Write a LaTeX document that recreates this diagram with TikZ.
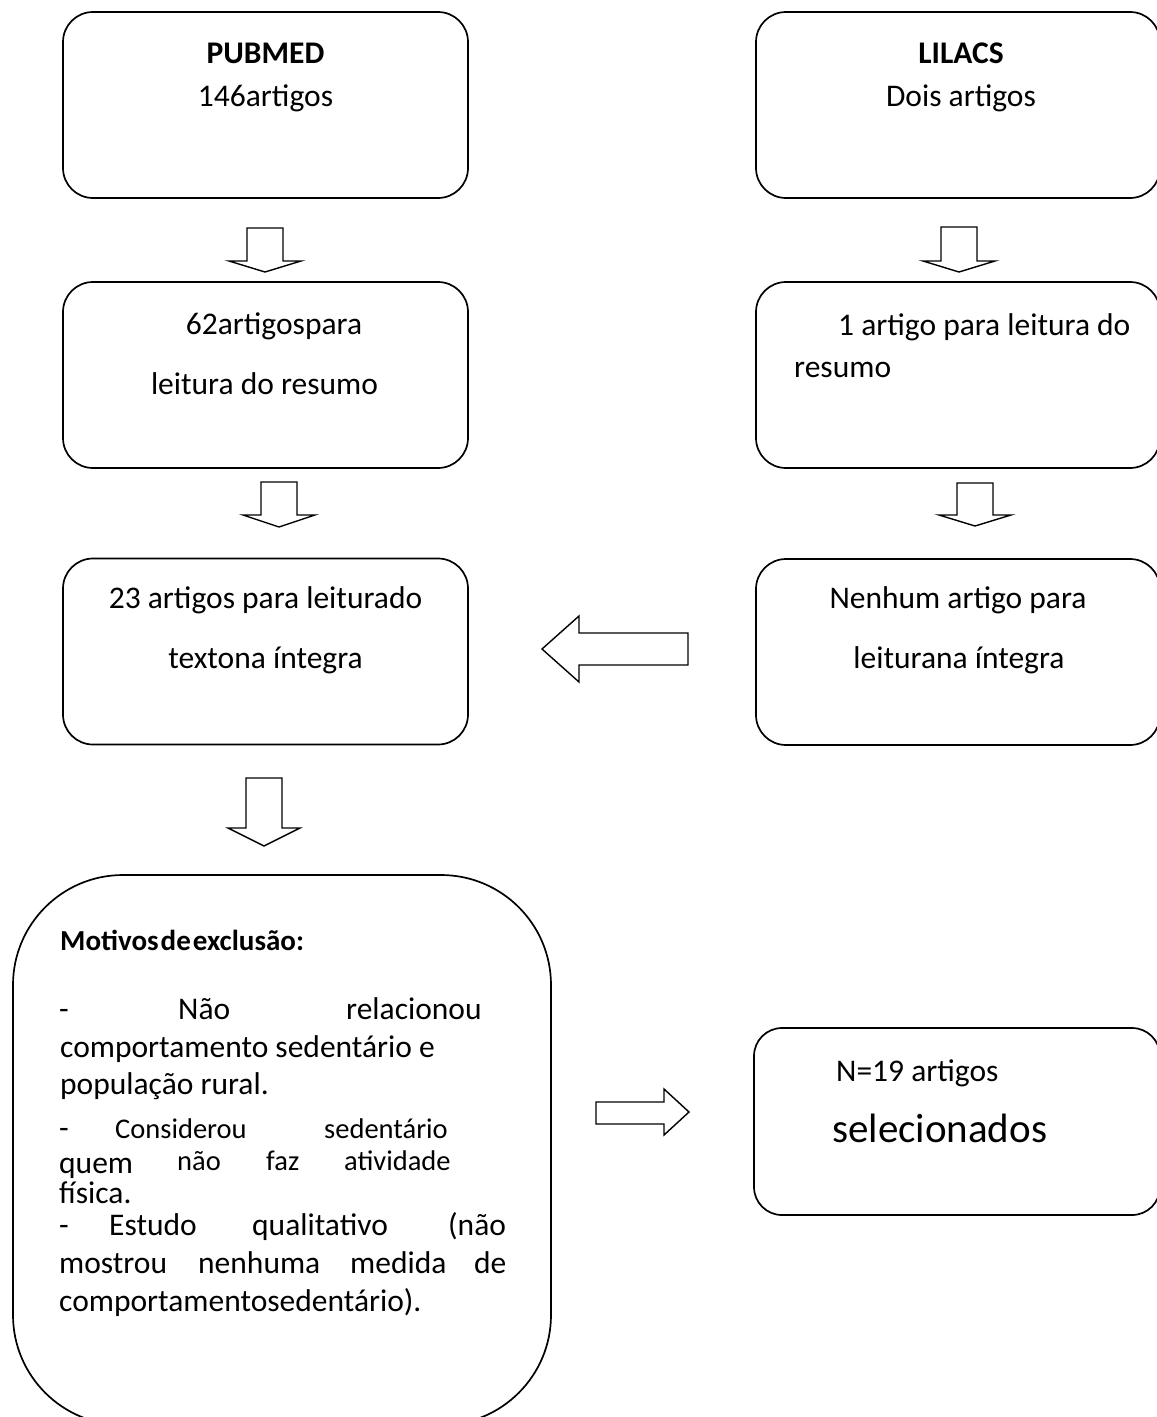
\documentclass[tikz,border=0pt]{standalone}
\usepackage{fontspec}
\setmainfont{Carlito}
\begin{document}
\tikzset{
  box/.style={draw, line width=1.7pt, rounded corners=30pt, inner sep=0pt},
  barrow/.style={draw, line width=1.4pt, line join=miter},
  txt/.style={anchor=base, inner sep=0pt, font=\fontsize{31.5}{37}\selectfont},
  txtl/.style={anchor=base west, inner sep=0pt, font=\fontsize{31.5}{37}\selectfont},
  txts/.style={anchor=base west, inner sep=0pt, font=\fontsize{28.5}{34}\selectfont},
}
\begin{tikzpicture}[x=1pt,y=-1pt]
\useasboundingbox (0,0) rectangle (1157,1417);
\fill[white] (0,0) rectangle (1157,1417);
\clip (0,0) rectangle (1157,1417);

% boxes
\node[box, minimum width=405pt, minimum height=186pt] (A) at (265.5,105) {};
\node[box, minimum width=404pt, minimum height=186pt] (B) at (958,105) {};
\node[box, minimum width=405pt, minimum height=186pt] (C) at (265.5,375) {};
\node[box, minimum width=404pt, minimum height=186pt] (D) at (958,375) {};
\node[box, minimum width=405pt, minimum height=186pt] (E) at (265.5,651.5) {};
\node[box, minimum width=404pt, minimum height=186pt] (F) at (958,652) {};
\node[box, rounded corners=110pt, minimum width=538pt, minimum height=550pt] (G) at (282,1150) {};
\node[box, rounded corners=28pt, minimum width=406pt, minimum height=187pt] (H) at (957,1121.5) {};

% texts
\node[txt, font=\fontsize{31.5}{37}\selectfont\bfseries] (a1) at (265.5,63) {PUBMED};
\node[txt] (a2) at (265.5,106) {146artigos};
\node[txt, font=\fontsize{31.5}{37}\selectfont\bfseries] (b1) at (961,63) {LILACS};
\node[txt] (b2) at (961,106) {Dois artigos};
\node[txt] (c1) at (274,334) {62artigospara};
\node[txt] (c2) at (264.5,394) {leitura do resumo};
\node[txtl] (d1) at (838,335) {1 artigo para leitura do};
\node[txtl] (d2) at (794,377) {resumo};
\node[txt] (e1) at (265.5,608) {23 artigos para leiturado};
\node[txt] (e2) at (265.5,668) {textona íntegra};
\node[txt] (f1) at (958,608) {Nenhum artigo para};
\node[txt] (f2) at (959,668) {leiturana íntegra};
\node[txtl] (h1) at (836,1081) {N=19 artigos};
\node[txtl, font=\fontsize{41}{48}\selectfont] (h2) at (832,1142) {selecionados};

% exclusion box text
\node[txtl, font=\fontsize{29}{34}\selectfont\bfseries] (g0) at (60,950) {Motivos\hspace{2pt}de\hspace{2pt}exclusão:};
\node[txtl] (g1a) at (59,1019) {-};
\node[txtl] (g1b) at (178,1019) {Não};
\node[txtl] (g1c) at (346,1019) {relacionou};
\node[txtl] (g2) at (60,1057) {comportamento sedentário e};
\node[txtl] (g3) at (60,1094) {população rural.};
\node[txtl] (g4a) at (59,1138) {-};
\node[txts] (g4b) at (115,1138) {Considerou};
\node[txts] (g4c) at (324,1138) {sedentário};
\node[txtl] (g5a) at (59,1173) {quem};
\node[txts] (g5b) at (177,1170) {não};
\node[txts] (g5c) at (266,1170) {faz};
\node[txts] (g5d) at (344,1170) {atividade};
\node[txtl] (g6) at (59,1203) {física.};
\node[txtl] (g7a) at (59,1235) {-};
\node[txtl] (g7b) at (109,1235) {Estudo};
\node[txtl] (g7c) at (252,1235) {qualitativo};
\node[txtl] (g7d) at (448,1235) {(não};
\node[txtl] (g8a) at (59,1273) {mostrou};
\node[txtl] (g8b) at (198,1273) {nenhuma};
\node[txtl] (g8c) at (350,1273) {medida};
\node[txtl] (g8d) at (474,1273) {de};
\node[txtl] (g9) at (59,1311) {comportamentosedentário).};

% block arrows (down)
\draw[barrow] (247,228) -- (283,228) -- (283,261) -- (301,261) -- (265,272) -- (229,261) -- (247,261) -- cycle;
\draw[barrow] (941,227) -- (977,227) -- (977,261) -- (995,261) -- (959,272) -- (923,261) -- (941,261) -- cycle;
\draw[barrow] (261,482) -- (297,482) -- (297,515) -- (315,515) -- (279,527) -- (243,515) -- (261,515) -- cycle;
\draw[barrow] (957,483) -- (993,483) -- (993,515) -- (1011,515) -- (975,526) -- (939,515) -- (957,515) -- cycle;
\draw[barrow] (246,778) -- (282,778) -- (282,828) -- (300,828) -- (264,846) -- (228,828) -- (246,828) -- cycle;
% left arrow
\draw[barrow] (688,633) -- (688,665) -- (579,665) -- (579,682) -- (542,649) -- (579,616) -- (579,633) -- cycle;
% right arrow
\draw[barrow] (596,1102) -- (596,1124) -- (664,1124) -- (664,1135) -- (689,1112) -- (664,1089) -- (664,1102) -- cycle;
\end{tikzpicture}
\end{document}
